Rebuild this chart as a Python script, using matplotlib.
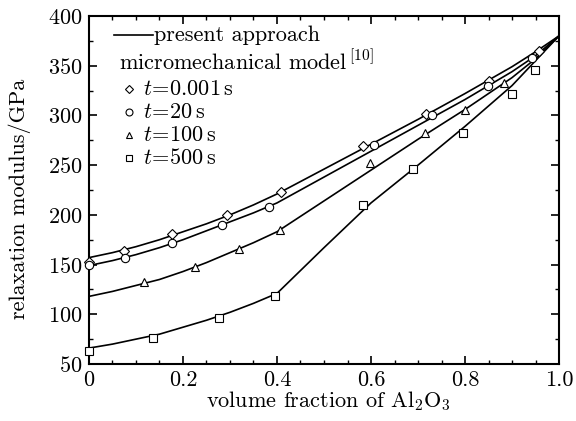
import numpy as np
import matplotlib
matplotlib.use("Agg")
import matplotlib.pyplot as plt

plt.rcParams['font.family'] = 'serif'
plt.rcParams['font.serif'] = ['cmr10', 'DejaVu Serif']
plt.rcParams['mathtext.fontset'] = 'cm'
plt.rcParams['axes.formatter.use_mathtext'] = True

# present approach (model curves)
x_line = [0.0, 0.05, 0.1, 0.15, 0.2, 0.25, 0.3, 0.35, 0.4, 0.5, 0.6, 0.7, 0.8, 0.9, 0.95, 1.0]
y_line_0001 = [157, 162, 168, 175, 183, 191, 200, 210, 221, 246, 271, 296, 322, 349, 364, 380]
y_line_20 = [149, 154, 160, 167, 175, 184, 193, 202, 212, 238, 264, 290, 316, 344, 360, 380]
y_line_100 = [118, 123, 129, 135, 143, 152, 162, 172, 183, 214, 245, 276, 306, 338, 357, 380]
y_line_500 = [66, 70, 75, 80, 87, 94, 102, 111, 121, 167, 212, 250, 289, 330, 355, 380]

# micromechanical model [10]
x_0001 = [0.0, 0.075, 0.177, 0.294, 0.409, 0.583, 0.718, 0.851, 0.957]
y_0001 = [153, 164, 181, 200, 223, 269, 301, 335, 365]
x_20 = [0.0, 0.077, 0.177, 0.282, 0.384, 0.607, 0.730, 0.849, 0.943]
y_20 = [150, 157, 172, 190, 208, 270, 300, 330, 358]
x_100 = [0.116, 0.226, 0.319, 0.406, 0.598, 0.715, 0.801, 0.883]
y_100 = [132, 148, 166, 185, 252, 282, 305, 333]
x_500 = [0.0, 0.137, 0.277, 0.396, 0.584, 0.689, 0.796, 0.899, 0.948]
y_500 = [63, 76, 96, 118, 210, 246, 282, 322, 346]

fig = plt.figure(figsize=(5.76, 4.21), dpi=100)
ax = fig.add_axes([0.1545, 0.1354, 0.816, 0.8266])

for yl in (y_line_0001, y_line_20, y_line_100, y_line_500):
    ax.plot(x_line, yl, color='black', lw=1.2, zorder=2)

mk = dict(linestyle='none', mfc='white', mec='black', mew=0.8, zorder=3, clip_on=False)
ax.plot(x_0001, y_0001, marker='D', ms=5, **mk)
ax.plot(x_20, y_20, marker='o', ms=6, **mk)
ax.plot(x_100, y_100, marker='^', ms=6, **mk)
ax.plot(x_500, y_500, marker='s', ms=6, **mk)

ax.set_xlim(0, 1.0)
ax.set_ylim(50, 400)
ax.set_xticks([0, 0.2, 0.4, 0.6, 0.8, 1.0])
ax.set_xticklabels(['0', '0.2', '0.4', '0.6', '0.8', '1.0'])
ax.set_xticks(np.arange(0, 1.0001, 0.05), minor=True)
ax.set_yticks(np.arange(50, 401, 50))
ax.set_yticks(np.arange(50, 401, 25), minor=True)
ax.tick_params(which='both', direction='in', top=True, right=True, labelsize=16)
ax.tick_params(which='major', length=6, width=1.2, pad=5)
ax.tick_params(which='minor', length=3, width=1.0)
for s in ax.spines.values():
    s.set_linewidth(1.5)

ax.set_xlabel(r'volume fraction of Al$_2$O$_3$', fontsize=16)
ax.xaxis.set_label_coords(0.51, -0.072)
ax.set_ylabel('relaxation modulus/GPa', fontsize=16)
ax.yaxis.set_label_coords(-0.123, 0.474)

# legend drawn by hand
tr = ax.transAxes
ax.plot([0.053, 0.136], [0.945, 0.945], color='black', lw=1.2, transform=tr)
ax.text(0.138, 0.945, 'present approach', fontsize=16, va='center', transform=tr)
ax.text(0.064, 0.868, r'micromechanical model$^{\,[10]}$', fontsize=16, va='center', transform=tr)
labels = [r'$t\!=\!0.001\,\mathrm{s}$', r'$t\!=\!20\,\mathrm{s}$',
          r'$t\!=\!100\,\mathrm{s}$', r'$t\!=\!500\,\mathrm{s}$']
markers = [('D', 5), ('o', 6), ('^', 6), ('s', 6)]
for i, (lab, (m, s)) in enumerate(zip(labels, markers)):
    yy = 0.790 - i * 0.066
    ax.plot([0.085], [yy], marker=m, ms=s - 1, linestyle='none', mfc='white',
            mec='black', mew=0.8, transform=tr)
    ax.text(0.115, yy, lab, fontsize=16, va='center', transform=tr)

fig.savefig('out.png', dpi=100)
